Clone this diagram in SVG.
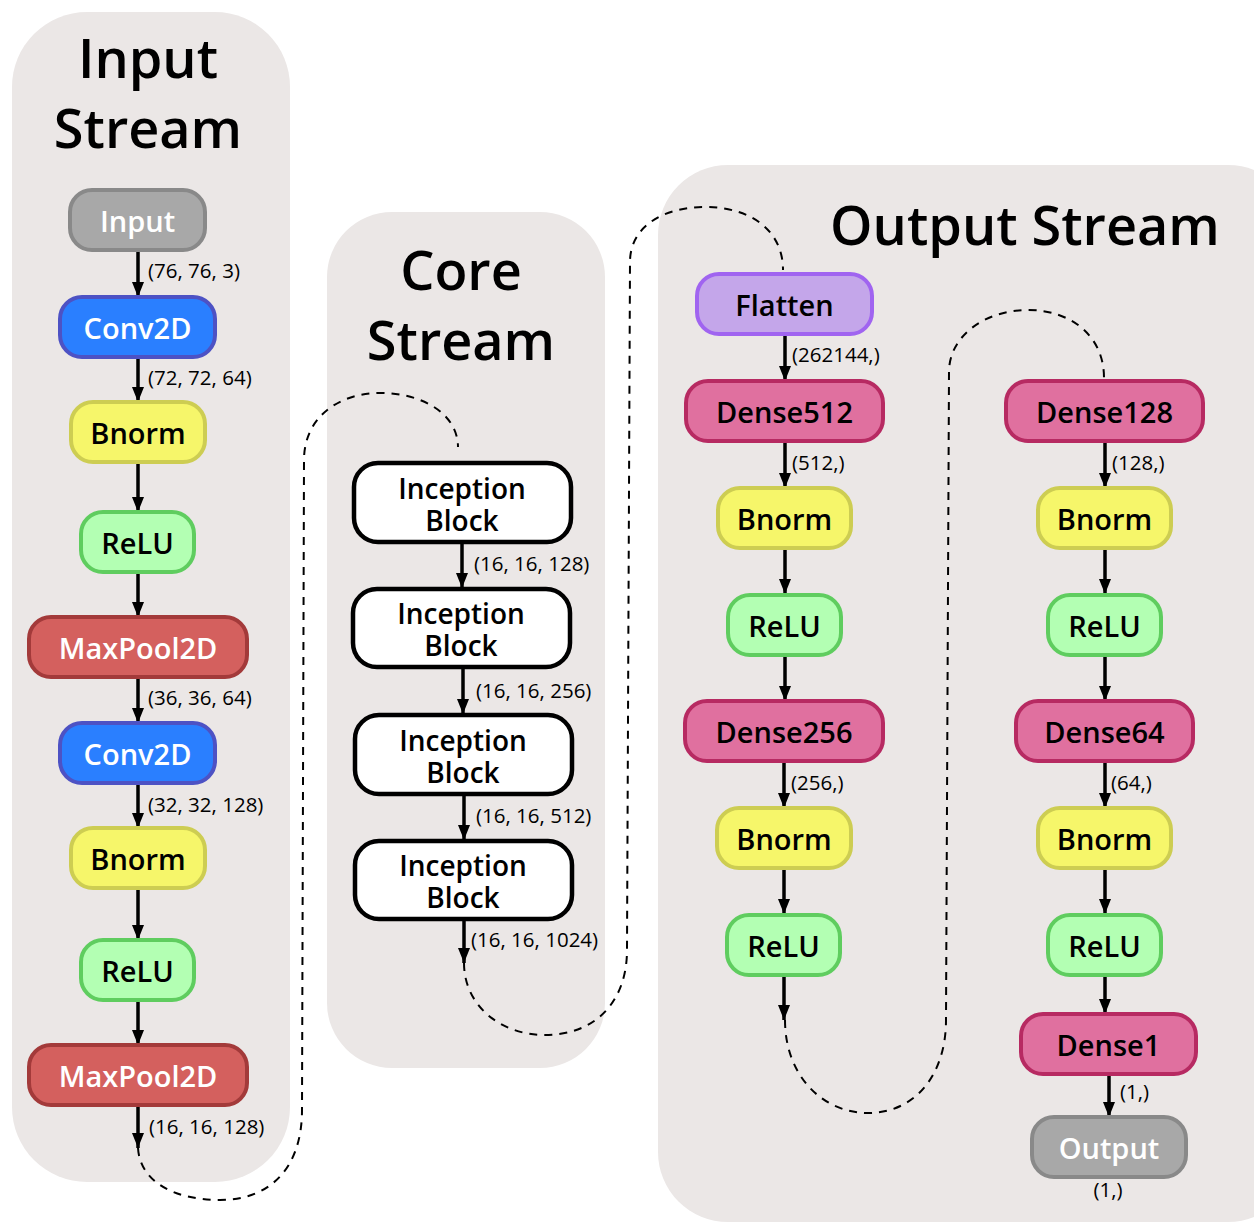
<svg xmlns="http://www.w3.org/2000/svg" width="1254" height="1222" viewBox="0 0 1254 1222">
  <defs>
    <marker id="arrow" viewBox="0 0 15 12" refX="15" refY="6" markerWidth="15" markerHeight="12" markerUnits="userSpaceOnUse" orient="auto">
      <path d="M0,0 L15,6 L0,12 Z" fill="#000"/>
    </marker>
    <style>
      .panel { fill: #ebe7e6; }
      .title { font-family: "Open Sans", "Liberation Sans", sans-serif; font-weight: 600; font-size: 54px; fill: #000; text-anchor: middle; }
      .node rect { stroke-width: 4; }
      .node text { font-family: "Open Sans", "Liberation Sans", sans-serif; font-weight: 600; font-size: 29px; text-anchor: middle; dominant-baseline: central; }
      .incep text { font-size: 28px; }
      .light text { fill: #fff; }
      .dark text { fill: #000; }
      .gray rect { fill: #a8a8a8; stroke: #898989; }
      .conv rect { fill: #2a7fff; stroke: #4d52c4; }
      .bnorm rect { fill: #f6f66a; stroke: #cdcd52; }
      .relu rect { fill: #b3ffb3; stroke: #5fcd5f; }
      .pool rect { fill: #d4605e; stroke: #a33a3a; }
      .flat rect { fill: #c4a6ea; stroke: #a064f0; }
      .dense rect { fill: #e0709f; stroke: #b72a62; }
      .incep rect { fill: #fff; stroke: #000; stroke-width: 4.5; }
      .edge { stroke: #000; stroke-width: 3.5; fill: none; }
      .dash { stroke: #000; stroke-width: 2; fill: none; stroke-dasharray: 8 7; }
      .lbl { font-family: "Open Sans", "Liberation Sans", sans-serif; font-weight: 500; font-size: 20.5px; fill: #000; }
    </style>
  </defs>

  <!-- stream panels -->
  <g id="panels">
    <rect class="panel" x="12" y="12" width="278" height="1170" rx="75"/>
    <rect class="panel" x="327" y="212" width="278" height="856" rx="65"/>
    <rect class="panel" x="658" y="165" width="640" height="1057" rx="70"/>
    <text class="title" x="148" y="78">Input</text>
    <text class="title" x="148" y="148">Stream</text>
    <text class="title" x="461" y="290">Core</text>
    <text class="title" x="461" y="360">Stream</text>
    <text class="title" x="1025" y="245">Output Stream</text>
  </g>

  <!-- connectors -->
  <g id="connectors">
    <!-- input stream -->
    <line class="edge" x1="138" y1="252" x2="138" y2="297" marker-end="url(#arrow)"/>
    <line class="edge" x1="138" y1="359" x2="138" y2="402" marker-end="url(#arrow)"/>
    <line class="edge" x1="138" y1="464" x2="138" y2="512" marker-end="url(#arrow)"/>
    <line class="edge" x1="138" y1="574" x2="138" y2="617" marker-end="url(#arrow)"/>
    <line class="edge" x1="138" y1="679" x2="138" y2="723" marker-end="url(#arrow)"/>
    <line class="edge" x1="138" y1="785" x2="138" y2="828" marker-end="url(#arrow)"/>
    <line class="edge" x1="138" y1="890" x2="138" y2="940" marker-end="url(#arrow)"/>
    <line class="edge" x1="138" y1="1002" x2="138" y2="1045" marker-end="url(#arrow)"/>
    <line class="edge" x1="138" y1="1107" x2="138" y2="1148" marker-end="url(#arrow)"/>
    <text class="lbl" x="148" y="278">(76, 76, 3)</text>
    <text class="lbl" x="148" y="385">(72, 72, 64)</text>
    <text class="lbl" x="148" y="705">(36, 36, 64)</text>
    <text class="lbl" x="148" y="812">(32, 32, 128)</text>
    <text class="lbl" x="149" y="1134">(16, 16, 128)</text>

    <!-- core stream -->
    <line class="edge" x1="462" y1="544" x2="462" y2="588" marker-end="url(#arrow)"/>
    <line class="edge" x1="463" y1="669" x2="463" y2="714" marker-end="url(#arrow)"/>
    <line class="edge" x1="464" y1="796" x2="464" y2="840" marker-end="url(#arrow)"/>
    <line class="edge" x1="464" y1="921" x2="464" y2="963" marker-end="url(#arrow)"/>
    <text class="lbl" x="474" y="571">(16, 16, 128)</text>
    <text class="lbl" x="476" y="698">(16, 16, 256)</text>
    <text class="lbl" x="476" y="823">(16, 16, 512)</text>
    <text class="lbl" x="471" y="947">(16, 16, 1024)</text>

    <!-- output stream, first column -->
    <line class="edge" x1="785" y1="336" x2="785" y2="381" marker-end="url(#arrow)"/>
    <line class="edge" x1="785" y1="443" x2="785" y2="488" marker-end="url(#arrow)"/>
    <line class="edge" x1="785" y1="550" x2="785" y2="594" marker-end="url(#arrow)"/>
    <line class="edge" x1="785" y1="657" x2="785" y2="701" marker-end="url(#arrow)"/>
    <line class="edge" x1="784" y1="763" x2="784" y2="808" marker-end="url(#arrow)"/>
    <line class="edge" x1="784" y1="870" x2="784" y2="914" marker-end="url(#arrow)"/>
    <line class="edge" x1="784" y1="977" x2="784" y2="1020" marker-end="url(#arrow)"/>
    <text class="lbl" x="792" y="362">(262144,)</text>
    <text class="lbl" x="792" y="470">(512,)</text>
    <text class="lbl" x="791" y="790">(256,)</text>

    <!-- output stream, second column -->
    <line class="edge" x1="1105" y1="443" x2="1105" y2="488" marker-end="url(#arrow)"/>
    <line class="edge" x1="1105" y1="550" x2="1105" y2="594" marker-end="url(#arrow)"/>
    <line class="edge" x1="1105" y1="657" x2="1105" y2="701" marker-end="url(#arrow)"/>
    <line class="edge" x1="1105" y1="763" x2="1105" y2="808" marker-end="url(#arrow)"/>
    <line class="edge" x1="1105" y1="870" x2="1105" y2="914" marker-end="url(#arrow)"/>
    <line class="edge" x1="1105" y1="977" x2="1105" y2="1014" marker-end="url(#arrow)"/>
    <line class="edge" x1="1109" y1="1076" x2="1109" y2="1117" marker-end="url(#arrow)"/>
    <text class="lbl" x="1112" y="470">(128,)</text>
    <text class="lbl" x="1111" y="790">(64,)</text>
    <text class="lbl" x="1120" y="1099">(1,)</text>
    <text class="lbl" x="1108" y="1197" text-anchor="middle">(1,)</text>

    <!-- stream-to-stream links -->
    <path class="dash" d="M138,1148 C140,1182 175,1200 220,1200 C270,1200 302,1168 302,1110 L304,460 C304,418 338,393 380,393 C424,393 458,415 458,447"/>
    <path class="dash" d="M464,963 C464,1005 500,1035 545,1035 C595,1035 627,1002 627,950 L630,262 C630,226 664,207 705,207 C750,207 783,230 783,270"/>
    <path class="dash" d="M785,1020 C785,1075 822,1113 868,1113 C915,1113 946,1075 946,1020 L949,372 C949,336 985,310 1028,310 C1070,310 1104,335 1104,378"/>
  </g>

  <!-- input stream nodes -->
  <g id="in-input" class="node gray light"><rect x="70" y="190" width="135" height="60" rx="22"/><text x="137.5" y="220">Input</text></g>
  <g id="in-conv1" class="node conv light"><rect x="60" y="297" width="155" height="60" rx="22"/><text x="137.5" y="327">Conv2D</text></g>
  <g id="in-bnorm1" class="node bnorm dark"><rect x="71" y="402" width="134" height="60" rx="22"/><text x="138" y="432">Bnorm</text></g>
  <g id="in-relu1" class="node relu dark"><rect x="81" y="512" width="113" height="60" rx="22"/><text x="137.5" y="542">ReLU</text></g>
  <g id="in-pool1" class="node pool light"><rect x="29" y="617" width="218" height="60" rx="22"/><text x="138" y="647">MaxPool2D</text></g>
  <g id="in-conv2" class="node conv light"><rect x="60" y="723" width="155" height="60" rx="22"/><text x="137.5" y="753">Conv2D</text></g>
  <g id="in-bnorm2" class="node bnorm dark"><rect x="71" y="828" width="134" height="60" rx="22"/><text x="138" y="858">Bnorm</text></g>
  <g id="in-relu2" class="node relu dark"><rect x="81" y="940" width="113" height="60" rx="22"/><text x="137.5" y="970">ReLU</text></g>
  <g id="in-pool2" class="node pool light"><rect x="29" y="1045" width="218" height="60" rx="22"/><text x="138" y="1075">MaxPool2D</text></g>

  <!-- core stream nodes (two-line labels) -->
  <g id="core-ib1" class="node incep dark"><rect x="354" y="463" width="217" height="79" rx="24"/><text x="462" y="488">Inception<tspan x="462" dy="32">Block</tspan></text></g>
  <g id="core-ib2" class="node incep dark"><rect x="353" y="589" width="217" height="78" rx="24"/><text x="461" y="613">Inception<tspan x="461" dy="32">Block</tspan></text></g>
  <g id="core-ib3" class="node incep dark"><rect x="355" y="715" width="217" height="79" rx="24"/><text x="463" y="740">Inception<tspan x="463" dy="32">Block</tspan></text></g>
  <g id="core-ib4" class="node incep dark"><rect x="355" y="841" width="217" height="78" rx="24"/><text x="463" y="865">Inception<tspan x="463" dy="32">Block</tspan></text></g>

  <!-- output stream nodes, first column -->
  <g id="out-flatten" class="node flat dark"><rect x="697" y="274" width="175" height="60" rx="22"/><text x="784.5" y="304">Flatten</text></g>
  <g id="out-dense512" class="node dense dark"><rect x="686" y="381" width="197" height="60" rx="22"/><text x="784.5" y="411">Dense512</text></g>
  <g id="out-bnorm1" class="node bnorm dark"><rect x="718" y="488" width="133" height="60" rx="22"/><text x="784.5" y="518">Bnorm</text></g>
  <g id="out-relu1" class="node relu dark"><rect x="728" y="595" width="113" height="60" rx="22"/><text x="784.5" y="625">ReLU</text></g>
  <g id="out-dense256" class="node dense dark"><rect x="685" y="701" width="198" height="60" rx="22"/><text x="784" y="731">Dense256</text></g>
  <g id="out-bnorm2" class="node bnorm dark"><rect x="717" y="808" width="134" height="60" rx="22"/><text x="784" y="838">Bnorm</text></g>
  <g id="out-relu2" class="node relu dark"><rect x="727" y="915" width="113" height="60" rx="22"/><text x="783.5" y="945">ReLU</text></g>

  <!-- output stream nodes, second column -->
  <g id="out-dense128" class="node dense dark"><rect x="1006" y="381" width="197" height="60" rx="22"/><text x="1104.5" y="411">Dense128</text></g>
  <g id="out-bnorm3" class="node bnorm dark"><rect x="1038" y="488" width="133" height="60" rx="22"/><text x="1104.5" y="518">Bnorm</text></g>
  <g id="out-relu3" class="node relu dark"><rect x="1048" y="595" width="113" height="60" rx="22"/><text x="1104.5" y="625">ReLU</text></g>
  <g id="out-dense64" class="node dense dark"><rect x="1016" y="701" width="177" height="60" rx="22"/><text x="1104.5" y="731">Dense64</text></g>
  <g id="out-bnorm4" class="node bnorm dark"><rect x="1038" y="808" width="133" height="60" rx="22"/><text x="1104.5" y="838">Bnorm</text></g>
  <g id="out-relu4" class="node relu dark"><rect x="1048" y="915" width="113" height="60" rx="22"/><text x="1104.5" y="945">ReLU</text></g>
  <g id="out-dense1" class="node dense dark"><rect x="1021" y="1014" width="175" height="60" rx="22"/><text x="1108.5" y="1044">Dense1</text></g>
  <g id="out-output" class="node gray light"><rect x="1032" y="1117" width="154" height="60" rx="22"/><text x="1109" y="1147">Output</text></g>
</svg>
